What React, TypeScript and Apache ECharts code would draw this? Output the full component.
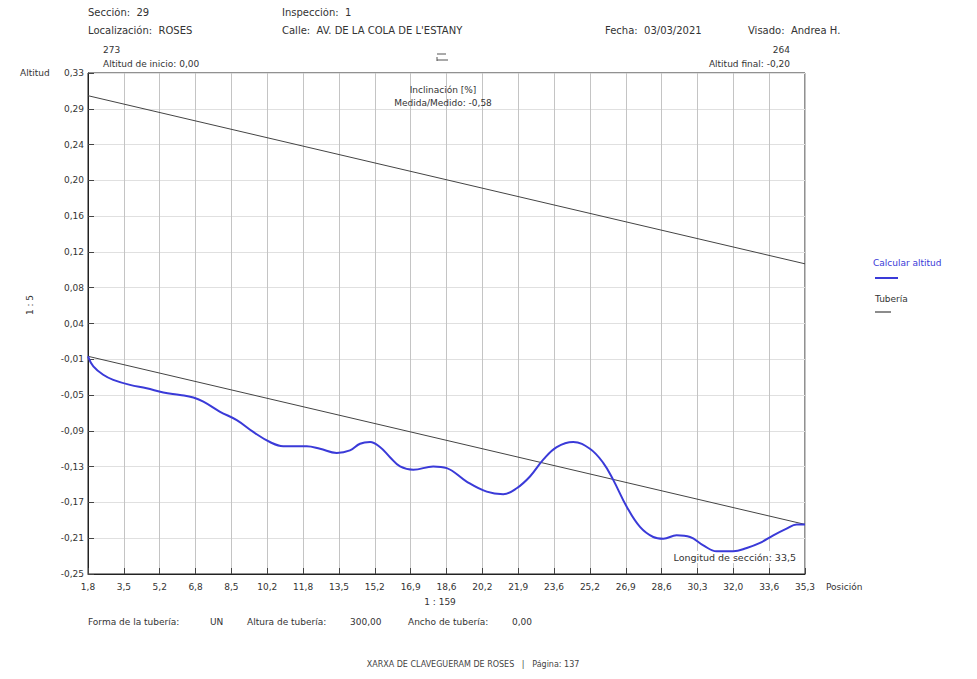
import React, { useEffect, useRef } from "react";
import * as echarts from "echarts";

// Tick labels (bottom-up for Y)
const xTickLabels = ["1,8", "3,5", "5,2", "6,8", "8,5", "10,2", "11,8", "13,5", "15,2", "16,9", "18,6", "20,2", "21,9", "23,6", "25,2", "26,9", "28,6", "30,3", "32,0", "33,6", "35,3"];
const yTickLabels = ["-0,25", "-0,21", "-0,17", "-0,13", "-0,09", "-0,05", "-0,01", "0,04", "0,08", "0,12", "0,16", "0,20", "0,24", "0,29", "0,33"];

// Axis value ranges
const xRange = [1.8, 35.3];
const yRange = [-0.259, 0.337];

// Series: Calcular altitud (position, altitude)
const altPos = [1.8, 2.05, 2.51, 2.98, 3.76, 4.54, 5.32, 6.1, 6.72, 7.19, 7.97, 8.75, 9.52, 10.3, 10.92, 12.02, 12.64, 13.42, 14.04, 14.51, 14.98, 15.44, 15.91, 16.38, 17.0, 17.93, 18.56, 19.49, 20.43, 21.2, 21.83, 22.45, 23.07, 23.7, 24.47, 25.25, 25.88, 26.34, 26.97, 27.59, 28.21, 28.68, 29.3, 29.93, 30.55, 31.17, 31.95, 32.58, 33.2, 33.82, 34.44, 34.91, 35.3];
const altVal = [0.0, -0.012, -0.022, -0.028, -0.034, -0.038, -0.043, -0.046, -0.049, -0.054, -0.066, -0.076, -0.09, -0.102, -0.107, -0.107, -0.11, -0.115, -0.112, -0.104, -0.102, -0.108, -0.12, -0.131, -0.135, -0.131, -0.133, -0.149, -0.161, -0.164, -0.157, -0.143, -0.123, -0.108, -0.102, -0.11, -0.127, -0.147, -0.179, -0.203, -0.215, -0.217, -0.213, -0.215, -0.225, -0.232, -0.232, -0.228, -0.222, -0.213, -0.205, -0.2, -0.2];

// Series: Tubería (bottom and top of pipe)
const pipePos = [1.8, 35.3];
const pipeBottom = [0.0, -0.2];
const pipeTop = [0.31, 0.11];

const FONT = "DejaVu Sans, Liberation Sans, sans-serif";
const TXT = "#333";
const O = 8; // body margin offset

function txt(x: number, y: number, text: string, opts: any = {}) {
  const align = opts.align || "left";
  return {
    type: "text",
    x: x - O,
    y: y - O,
    rotation: opts.rotation || 0,
    z: opts.z ?? 10,
    style: {
      text,
      font: `${opts.weight || "normal"} ${opts.size || 9}px ${FONT}`,
      fill: opts.fill || TXT,
      align,
      textAlign: align,
      verticalAlign: "middle",
      textVerticalAlign: "middle",
      backgroundColor: opts.bg,
      padding: opts.bg ? [1, 2] : 0,
    },
  };
}

function ln(x1: number, y1: number, x2: number, y2: number, stroke: string, w: number) {
  return { type: "line", z: 10, shape: { x1: x1 - O, y1: y1 - O, x2: x2 - O, y2: y2 - O }, style: { stroke, lineWidth: w } };
}

export default function App() {
  const ref = useRef<HTMLDivElement>(null);
  useEffect(() => {
    if (!ref.current) return;
    const chart = echarts.init(ref.current, null, { renderer: "svg" });
    const altData = altPos.map((p, i) => [p, altVal[i]]);
    const botData = pipePos.map((p, i) => [p, pipeBottom[i]]);
    const topData = pipePos.map((p, i) => [p, pipeTop[i]]);
    const axisFont = { color: TXT, fontSize: 9, fontFamily: FONT };
    const option: any = {
      animation: false,
      backgroundColor: "#fff",
      grid: {
        left: 88 - O,
        top: 73 - O,
        width: 717,
        height: 501,
        show: true,
        borderColor: "#222",
        borderWidth: 1,
        containLabel: false,
      },
      xAxis: [
        { type: "value", min: xRange[0], max: xRange[1], show: false },
        {
          type: "value",
          min: 0,
          max: 20,
          interval: 1,
          position: "bottom",
          axisLine: { onZero: false, lineStyle: { color: "#222", width: 1 } },
          axisTick: { inside: true, length: 6, lineStyle: { color: "#444" } },
          axisLabel: {
            formatter: (v: number) => xTickLabels[Math.round(v)] ?? "",
            ...axisFont,
            margin: 8,
          },
          splitLine: { show: true, lineStyle: { color: "#c4c4c4", width: 1 } },
        },
      ],
      yAxis: [
        { type: "value", min: yRange[0], max: yRange[1], show: false },
        {
          type: "value",
          min: 0,
          max: 14,
          interval: 1,
          position: "left",
          axisLine: { onZero: false, lineStyle: { color: "#222", width: 1 } },
          axisTick: { inside: true, length: 6, lineStyle: { color: "#444" } },
          axisLabel: {
            formatter: (v: number) => yTickLabels[Math.round(v)] ?? "",
            ...axisFont,
            margin: 4,
          },
          splitLine: { show: true, lineStyle: { color: "#e0e0e0", width: 1 } },
        },
      ],
      series: [
        {
          name: "Tubería",
          type: "line",
          xAxisIndex: 0,
          yAxisIndex: 0,
          data: topData,
          showSymbol: false,
          lineStyle: { color: "#444", width: 1 },
          z: 3,
        },
        {
          name: "Tubería",
          type: "line",
          xAxisIndex: 0,
          yAxisIndex: 0,
          data: botData,
          showSymbol: false,
          lineStyle: { color: "#444", width: 1 },
          z: 3,
        },
        {
          name: "Calcular altitud",
          type: "line",
          xAxisIndex: 0,
          yAxisIndex: 0,
          data: altData,
          smooth: 0.4,
          showSymbol: false,
          lineStyle: { color: "#3a3ad8", width: 2 },
          z: 4,
        },
      ],
      graphic: [
        txt(88, 12, "Sección:  29", { size: 10 }),
        txt(88, 30, "Localización:  ROSES", { size: 10 }),
        txt(282, 12, "Inspección:  1", { size: 10 }),
        txt(282, 30, "Calle:  AV. DE LA COLA DE L'ESTANY", { size: 10 }),
        txt(605, 30, "Fecha:  03/03/2021", { size: 10 }),
        txt(748, 30, "Visado:  Andrea H.", { size: 10 }),
        txt(103, 50, "273"),
        txt(103, 64, "Altitud de inicio: 0,00"),
        txt(790, 50, "264", { align: "right" }),
        txt(790, 64, "Altitud final: -0,20", { align: "right" }),
        ln(437, 54, 446, 54, "#555", 1),
        ln(437, 60, 448, 60, "#555", 1),
        ln(437, 57, 437, 61, "#555", 1),
        txt(20, 73, "Altitud"),
        txt(443, 90, "Inclinación [%]", { align: "center" }),
        txt(443, 103, "Medida/Medido: -0,58", { align: "center" }),
        txt(30, 305, "1 : 5", { align: "center", rotation: Math.PI / 2 }),
        txt(826, 587, "Posición"),
        txt(440, 602, "1 : 159", { align: "center" }),
        txt(88, 622, "Forma de la tubería:"),
        txt(210, 622, "UN"),
        txt(247, 622, "Altura de tubería:"),
        txt(350, 622, "300,00"),
        txt(408, 622, "Ancho de tubería:"),
        txt(512, 622, "0,00"),
        txt(798, 557, "Longitud de sección: 33,5", { align: "right", bg: "#fff", size: 9.5, z: 1 }),
        txt(873, 263, "Calcular altitud", { fill: "#3a3ad8" }),
        ln(875, 278, 898, 278, "#3a3ad8", 2),
        txt(875, 299, "Tubería"),
        ln(875, 312, 891, 312, "#666", 1.5),
        txt(473, 664, "XARXA DE CLAVEGUERAM DE ROSES   |   Página: 137", { align: "center", size: 8, fill: "#444" }),
      ],
    };
    chart.setOption(option);
    return () => chart.dispose();
  }, []);
  return <div ref={ref} style={{ width: 961, height: 663 }} />;
}
